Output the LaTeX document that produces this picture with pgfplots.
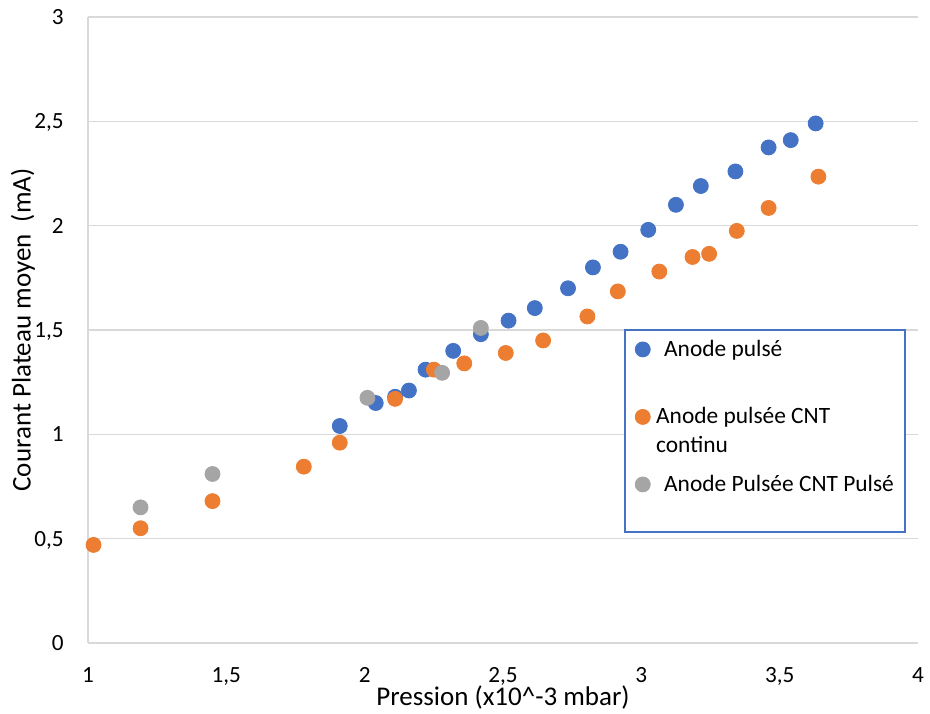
\documentclass[border=0pt]{standalone}
\usepackage{fontspec}
\setmainfont{Carlito}
\usepackage{pgfplots}
\pgfplotsset{compat=1.18}
\definecolor{cblue}{HTML}{4472C4}
\definecolor{corange}{HTML}{ED7D31}
\definecolor{cgray}{HTML}{A5A5A5}
\definecolor{cgrid}{HTML}{D9D9D9}
\begin{document}
\fontsize{11.6pt}{14pt}\selectfont
\begin{tikzpicture}
\begin{axis}[
  at={(0,0)}, anchor=south west,
  scale only axis, width=415pt, height=313pt,
  xmin=1, xmax=4, ymin=0, ymax=3,
  xtick={1,1.5,2,2.5,3,3.5,4},
  xticklabels={1,{1,5},2,{2,5},3,{3,5},4},
  ytick={0,0.5,1,1.5,2,2.5,3},
  yticklabels={0,{0,5},1,{1,5},2,{2,5},3},
  axis x line*=bottom, axis y line*=left,
  axis line style={-, draw=cgrid, line width=0.75pt},
  ymajorgrids, grid style={cgrid, line width=0.75pt},
  major tick length=0pt,
  tick label style={font=\fontsize{11.6pt}{14pt}\selectfont},
  xticklabel style={anchor=base, yshift=-19.5pt},
  yticklabel style={anchor=base east, inner sep=0pt, xshift=-12pt, yshift=-3.67pt},
  label style={font=\fontsize{13.5pt}{16pt}\selectfont},
  xlabel={Pression (x10\textasciicircum-3 mbar)},
  ylabel={Courant Plateau moyen\ \ (mA)},
  xlabel style={at={(axis description cs:0.5,-0.0863)}, anchor=center},
  ylabel style={at={(axis description cs:-0.0783,0.5)}, anchor=center},
  legend style={at={(axis description cs:0.6584,0.4816)}, anchor=north west,
    draw=none, fill=none, inner xsep=0pt, inner ysep=0pt, row sep=26.25pt,
    nodes={inner sep=0pt}, font=\fontsize{11.7pt}{14pt}\selectfont},
  legend cell align=left,
  legend image code/.code={\draw[#1] plot coordinates {(3.75pt,0pt)}; \path (0pt,0pt) (10.25pt,0pt);},
  every axis plot/.append style={only marks, mark=*, mark size=3.75pt},
]
\fill[white, draw=cblue, line width=0.9pt] (axis description cs:0.647,0.5) rectangle (axis description cs:0.984,0.1773);
\addplot[cblue, mark options={fill=cblue, draw=none}] coordinates {
(1.91,1.04) (2.04,1.15) (2.11,1.18) (2.16,1.21) (2.22,1.31) (2.32,1.40)
(2.42,1.48) (2.52,1.545) (2.615,1.605) (2.735,1.70) (2.825,1.80) (2.925,1.875)
(3.025,1.98) (3.125,2.10) (3.215,2.19) (3.34,2.26) (3.46,2.375) (3.54,2.41) (3.63,2.49)
};
\addlegendentry{\smash{\raisebox{-4.4pt}{\hspace{4pt}Anode pulsé}}}
\addplot[corange, mark options={fill=corange, draw=none}] coordinates {
(1.02,0.47) (1.19,0.55) (1.45,0.68) (1.78,0.845) (1.91,0.96) (2.11,1.17)
(2.25,1.31) (2.36,1.34) (2.51,1.39) (2.645,1.45) (2.805,1.565) (2.915,1.685)
(3.065,1.78) (3.185,1.85) (3.245,1.865) (3.345,1.975) (3.46,2.085) (3.64,2.235)
};
\addlegendentry{\smash{\raisebox{-4.4pt}{\begin{tabular}[t]{@{}l@{}}Anode pulsée CNT\\[0.5pt]continu\end{tabular}}}}
\addplot[cgray, mark options={fill=cgray, draw=none}] coordinates {
(1.19,0.65) (1.45,0.81) (2.01,1.175) (2.28,1.295) (2.42,1.51)
};
\addlegendentry{\smash{\raisebox{-4.4pt}{\hspace{4pt}Anode Pulsée CNT Pulsé}}}
\end{axis}
\pgfresetboundingbox
\path[use as bounding box] (-44pt,-35pt) rectangle (421pt,321.5pt);
\end{tikzpicture}
\end{document}
